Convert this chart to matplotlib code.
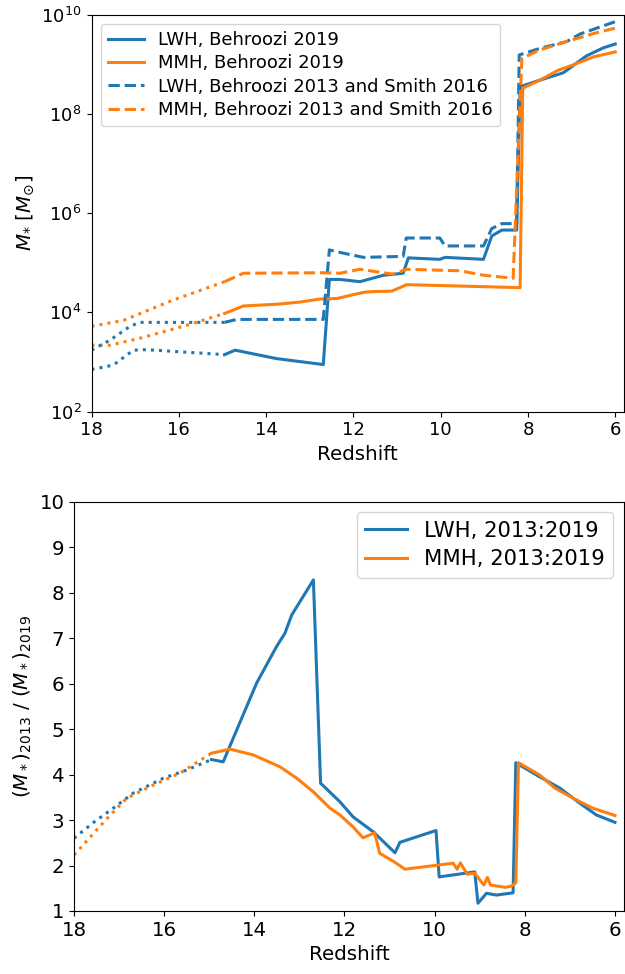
import numpy as np
import matplotlib
matplotlib.use("Agg")
import matplotlib.pyplot as plt
from matplotlib.ticker import NullLocator, LogLocator

# Top panel: log10 stellar mass vs redshift
z_lwh19 = [18.0, 17.5, 17.04, 16.74, 14.95, 14.71, 13.76, 12.69, 12.55, 12.31, 11.85,
           11.31, 10.86, 10.74, 10.02, 9.90, 9.02, 8.83, 8.60, 8.26, 8.18, 7.73,
           7.19, 6.66, 6.28, 6.0]
m_lwh19 = [2.85, 2.94, 3.24, 3.25, 3.15, 3.24, 3.07, 2.95, 4.665, 4.665, 4.62,
           4.75, 4.79, 5.10, 5.07, 5.11, 5.07, 5.54, 5.66, 5.66, 8.55, 8.68,
           8.83, 9.17, 9.33, 9.41]

z_mmh19 = [18.0, 17.58, 16.89, 15.82, 14.95, 14.52, 13.68, 13.22, 12.77, 12.38,
           12.0, 11.73, 11.54, 11.12, 10.78, 8.18, 8.12, 7.73, 7.31, 6.96, 6.50, 6.0]
m_mmh19 = [3.34, 3.34, 3.48, 3.74, 3.98, 4.13, 4.17, 4.21, 4.27, 4.28,
           4.36, 4.41, 4.42, 4.43, 4.56, 4.50, 8.52, 8.68, 8.88, 8.99, 9.15, 9.25]

z_lwh13 = [18.0, 17.58, 17.12, 16.89, 14.95, 14.67, 12.69, 12.55, 12.31, 11.77,
           10.86, 10.79, 10.02, 9.90, 9.02, 8.83, 8.60, 8.26, 8.20, 7.73, 7.11,
           6.81, 6.0]
m_lwh13 = [3.24, 3.44, 3.72, 3.80, 3.80, 3.86, 3.86, 5.26, 5.21, 5.11,
           5.13, 5.50, 5.50, 5.34, 5.34, 5.69, 5.79, 5.79, 9.19, 9.32, 9.46,
           9.61, 9.86]

z_mmh13 = [18.0, 17.27, 16.13, 14.95, 14.52, 12.69, 12.31, 11.85, 11.09, 10.78,
           9.56, 9.02, 8.34, 8.14, 7.73, 7.11, 6.50, 6.0]
m_mmh13 = [3.72, 3.84, 4.25, 4.62, 4.79, 4.80, 4.79, 4.87, 4.77, 4.87,
           4.84, 4.75, 4.69, 9.12, 9.29, 9.46, 9.62, 9.73]

# Bottom panel: mass ratio 2013/2019
z_lwh_ratio = [18.0, 17.55, 17.13, 16.69, 16.02, 15.50, 14.95, 14.69, 13.95, 13.51,
               13.32, 13.17, 12.69, 12.53, 12.10, 11.81, 11.36, 10.88, 10.77, 9.97,
               9.90, 9.11, 9.04, 8.85, 8.63, 8.26, 8.20, 7.67, 7.22, 6.78, 6.41, 6.0]
r_lwh = [2.60, 2.96, 3.26, 3.59, 3.92, 4.10, 4.33, 4.28, 6.01, 6.81,
         7.11, 7.51, 8.28, 3.81, 3.40, 3.07, 2.74, 2.28, 2.51, 2.77,
         1.75, 1.86, 1.17, 1.39, 1.35, 1.40, 4.26, 3.95, 3.70, 3.37, 3.11, 2.95]

z_mmh_ratio = [18.0, 17.50, 17.28, 16.83, 16.24, 15.65, 14.95, 14.54, 14.02, 13.43,
               13.06, 12.69, 12.32, 12.10, 11.81, 11.59, 11.33, 11.22, 10.88, 10.66,
               9.59, 9.50, 9.43, 9.28, 9.11, 8.91, 8.83, 8.76, 8.43, 8.29, 8.20,
               8.14, 7.67, 7.33, 6.93, 6.49, 6.0]
r_mmh = [2.23, 2.78, 3.02, 3.48, 3.77, 4.03, 4.47, 4.56, 4.43, 4.17,
         3.92, 3.62, 3.26, 3.11, 2.85, 2.61, 2.72, 2.27, 2.07, 1.92,
         2.05, 1.92, 2.06, 1.81, 1.83, 1.57, 1.74, 1.57, 1.52, 1.55, 1.62,
         4.26, 3.99, 3.70, 3.48, 3.26, 3.10]

Z_EXT = 14.95  # above this redshift the curves are extrapolated (dotted)
BLUE = "#1f77b4"
ORANGE = "#ff7f0e"
LW = 2.2


def split(z, v):
    z = np.asarray(z)
    v = np.asarray(v)
    hi = z >= Z_EXT
    lo = z <= Z_EXT
    return (z[hi], v[hi]), (z[lo], v[lo])


fig = plt.figure(figsize=(6.25, 9.74), dpi=100)
W, H = 625.0, 974.0

# ---- top panel
ax1 = fig.add_axes([91.5 / W, 1 - 411.7 / H, (624 - 91.5) / W, (411.7 - 14.7) / H])
series_top = [
    (z_lwh19, m_lwh19, BLUE, "-", "LWH, Behroozi 2019"),
    (z_mmh19, m_mmh19, ORANGE, "-", "MMH, Behroozi 2019"),
    (z_lwh13, m_lwh13, BLUE, "--", "LWH, Behroozi 2013 and Smith 2016"),
    (z_mmh13, m_mmh13, ORANGE, "--", "MMH, Behroozi 2013 and Smith 2016"),
]
for z, m, c, ls, lab in series_top:
    (zh, mh), (zl, ml) = split(z, m)
    ax1.plot(zh, 10 ** mh, color=c, ls=":", lw=LW)
    ax1.plot(zl, 10 ** ml, color=c, ls=ls, lw=LW, label=lab)

ax1.set_yscale("log")
ax1.set_ylim(1e2, 1e10)
ax1.set_xlim(18, 5.8)
ax1.yaxis.set_major_locator(LogLocator(base=10, numticks=6))
ax1.yaxis.set_minor_locator(NullLocator())
ax1.set_xticks([18, 16, 14, 12, 10, 8, 6])
ax1.tick_params(labelsize=13)
ax1.set_xlabel("Redshift", fontsize=14.3)
ax1.set_ylabel(r"$M_{*}$ [$M_{\odot}$]", fontsize=14.3)
ax1.legend(loc="upper left", fontsize=13, labelspacing=0.3, handlelength=2.0)

# ---- bottom panel
ax2 = fig.add_axes([74 / W, 1 - 911 / H, (624 - 74) / W, (911 - 501.7) / H])
for z, r, c, lab in [(z_lwh_ratio, r_lwh, BLUE, "LWH, 2013:2019"),
                     (z_mmh_ratio, r_mmh, ORANGE, "MMH, 2013:2019")]:
    (zh, rh), (zl, rl) = split(z, r)
    ax2.plot(zh, rh, color=c, ls=":", lw=LW)
    ax2.plot(zl, rl, color=c, ls="-", lw=LW, label=lab)

ax2.set_xlim(18, 5.8)
ax2.set_ylim(1, 10)
ax2.set_xticks([18, 16, 14, 12, 10, 8, 6])
ax2.set_yticks(range(1, 11))
ax2.tick_params(labelsize=14.2)
ax2.set_xlabel("Redshift", fontsize=14.3)
ax2.set_ylabel(r"$(M_*)_{2013}$ / $(M_*)_{2019}$", fontsize=14.3)
ax2.legend(loc="upper right", fontsize=15.2, labelspacing=0.4)

fig.savefig("out.png", dpi=100)
